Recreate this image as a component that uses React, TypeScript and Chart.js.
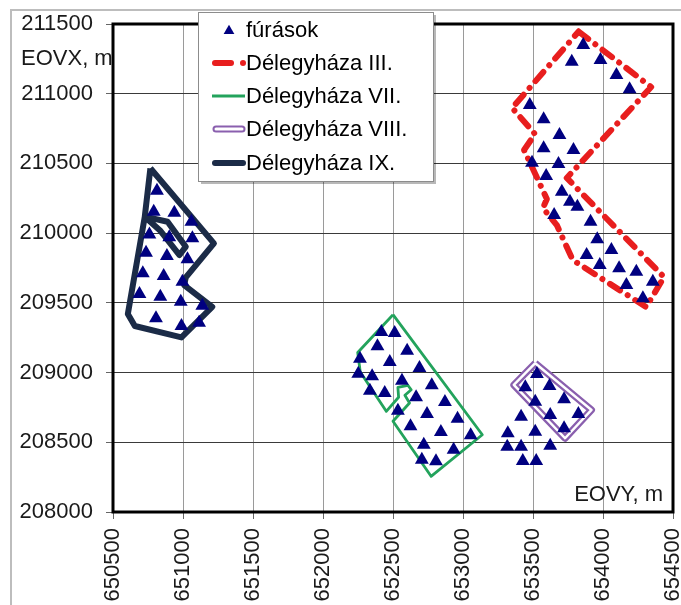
import React, { useEffect, useRef } from 'react';
import { Chart, registerables } from 'chart.js';

Chart.register(...registerables);

const FONT = '"Liberation Sans", Arial, Helvetica, sans-serif';

// Axis ticks, EOV coordinates in metres
const eovyTicks = [650500, 651000, 651500, 652000, 652500, 653000, 653500, 654000, 654500];
const eovxTicks = [208000, 208500, 209000, 209500, 210000, 210500, 211000, 211500];

// Series labels
const seriesNames = ['fúrások', 'Délegyháza III.', 'Délegyháza VII.', 'Délegyháza VIII.', 'Délegyháza IX.'];

// Boreholes, Délegyháza III. area (EOVY, EOVX)
const boreIII_eovy = [653859, 653777, 653982, 654096, 654190, 653477, 653576, 653689, 653576, 653789, 653493, 653682, 653594, 653706, 653764, 653817, 653651, 653911, 653959, 654060, 653883, 653977, 654115, 654238, 654167, 654356, 654285];
const boreIII_eovx = [211349, 211230, 211242, 211134, 211032, 210919, 210817, 210704, 210609, 210596, 210505, 210496, 210410, 210297, 210226, 210190, 210130, 210082, 209956, 209879, 209843, 209772, 209748, 209724, 209628, 209652, 209533];

// Boreholes, Délegyháza VII. area
const boreVII_eovy = [652417, 652512, 652389, 652601, 652264, 652477, 652689, 652252, 652351, 652564, 652777, 652335, 652441, 652665, 652871, 652535, 652743, 652961, 652625, 652842, 653055, 652720, 652933, 652706, 652807];
const boreVII_eovx = [209291, 209284, 209188, 209157, 209100, 209076, 209033, 208992, 208973, 208942, 208909, 208870, 208854, 208823, 208789, 208727, 208703, 208669, 208615, 208574, 208550, 208483, 208447, 208375, 208364];

// Boreholes, Délegyháza VIII. area and its surroundings
const boreVIII_eovy = [653528, 653445, 653618, 653516, 653722, 653415, 653623, 653824, 653320, 653516, 653722, 653316, 653415, 653623, 653427, 653523];
const boreVIII_eovx = [208990, 208894, 208904, 208791, 208808, 208684, 208696, 208703, 208564, 208576, 208600, 208468, 208468, 208476, 208366, 208366];

// Boreholes, Délegyháza IX. area
const boreIX_eovy = [650814, 650791, 650938, 651060, 650760, 650902, 651067, 650736, 650885, 651032, 650713, 650862, 650996, 650689, 650838, 650984, 651138, 650807, 650989, 651115];
const boreIX_eovx = [210304, 210154, 210147, 210082, 209990, 209970, 209963, 209860, 209836, 209812, 209712, 209693, 209652, 209564, 209544, 209508, 209480, 209389, 209334, 209358];

// Field boundaries (closed polygons)
const fieldIII_eovy = [653826, 654344, 653741, 654436, 654308, 653784, 653670, 653571, 653599, 653493, 653436, 653514, 653351, 653826];
const fieldIII_eovx = [211446, 211048, 210396, 209685, 209470, 209807, 210058, 210180, 210245, 210474, 210596, 210711, 210898, 211446];

const fieldVII_eovy = [652500, 653138, 652772, 652500, 652618, 652585, 652630, 652606, 652535, 652540, 652452, 652266, 652248, 652500];
const fieldVII_eovx = [209415, 208554, 208256, 208651, 208782, 208837, 208877, 208909, 208894, 208823, 208722, 209004, 209144, 209415];

const fieldVIII_eovy = [653516, 653918, 653729, 653363, 653516];
const fieldVIII_eovx = [209067, 208732, 208529, 208911, 209067];

const fieldIX_eovy = [650767, 651221, 651020, 651008, 651209, 650989, 650656, 650606, 650727, 650890, 651020, 650975, 650840, 650727, 650767];
const fieldIX_eovx = [210465, 209927, 209683, 209628, 209472, 209252, 209334, 209420, 210118, 210082, 209903, 209843, 210015, 210118, 210465];

const COLORS = {
  bore: '#000080',
  III: '#e81e1e',
  VII: '#23a35c',
  VIII: '#8a5fae',
  IX: '#1b2b47',
};

const toPoints = (xs: number[], ys: number[]) => xs.map((x, i) => ({ x, y: ys[i] }));

const TRI_R = 8;

function triangle(ctx: CanvasRenderingContext2D, x: number, y: number, r: number) {
  ctx.beginPath();
  for (let k = 0; k < 3; k++) {
    const a = (k * 2 * Math.PI) / 3;
    const px = x + Math.sin(a) * r;
    const py = y - Math.cos(a) * r;
    if (k === 0) ctx.moveTo(px, py);
    else ctx.lineTo(px, py);
  }
  ctx.closePath();
  ctx.fill();
}

// Frame, axis captions and the floating legend box
const decorations = {
  id: 'decorations',
  beforeDraw(chart: any) {
    const { ctx, width, height } = chart;
    ctx.save();
    ctx.fillStyle = '#ffffff';
    ctx.fillRect(0, 0, width, height);
    ctx.strokeStyle = '#bdbdbd';
    ctx.lineWidth = 2;
    ctx.beginPath();
    ctx.moveTo(11, height + 2);
    ctx.lineTo(11, 10);
    ctx.lineTo(width + 2, 10);
    ctx.stroke();
    ctx.restore();
  },
  afterDatasetsDraw(chart: any) {
    const { ctx, chartArea: a } = chart;
    ctx.save();
    ctx.strokeStyle = '#000000';
    ctx.lineWidth = 3;
    ctx.strokeRect(a.left, a.top, a.right - a.left, a.bottom - a.top);
    ctx.restore();
  },
  afterDraw(chart: any) {
    const { ctx, chartArea: a } = chart;
    ctx.save();
    ctx.font = `22px ${FONT}`;
    ctx.fillStyle = '#1a1a1a';
    ctx.textBaseline = 'middle';
    ctx.textAlign = 'left';
    ctx.fillText('EOVX, m', 21, 59);
    ctx.textAlign = 'right';
    ctx.fillText('EOVY, m', a.right - 10, a.bottom - 17);

    // legend box
    const lx = 198, ly = 12, lw = 235, lh = 169;
    ctx.fillStyle = 'rgba(0,0,0,0.28)';
    ctx.fillRect(lx + 3, ly + 3, lw, lh);
    ctx.fillStyle = '#ffffff';
    ctx.fillRect(lx, ly, lw, lh);
    ctx.strokeStyle = '#8c8c8c';
    ctx.lineWidth = 1;
    ctx.strokeRect(lx + 0.5, ly + 0.5, lw, lh);

    const rows = [30, 63, 96, 129, 163];
    const s0 = 213, s1 = 244;
    ctx.lineCap = 'round';

    // boreholes marker
    ctx.fillStyle = COLORS.bore;
    triangle(ctx, 229, rows[0] + 1, 6.2);

    // III: dash and dot
    ctx.strokeStyle = COLORS.III;
    ctx.lineWidth = 6;
    ctx.beginPath();
    ctx.moveTo(215, rows[1]);
    ctx.lineTo(231, rows[1]);
    ctx.stroke();
    ctx.beginPath();
    ctx.moveTo(243, rows[1]);
    ctx.lineTo(243.01, rows[1]);
    ctx.stroke();

    // VII
    ctx.lineCap = 'butt';
    ctx.strokeStyle = COLORS.VII;
    ctx.lineWidth = 3;
    ctx.beginPath();
    ctx.moveTo(s0 - 1, rows[2]);
    ctx.lineTo(s1 + 1, rows[2]);
    ctx.stroke();

    // VIII: double line
    ctx.lineCap = 'round';
    ctx.strokeStyle = COLORS.VIII;
    ctx.lineWidth = 7;
    ctx.beginPath();
    ctx.moveTo(s0 + 3, rows[3]);
    ctx.lineTo(s1 - 2, rows[3]);
    ctx.stroke();
    ctx.strokeStyle = '#ffffff';
    ctx.lineWidth = 3;
    ctx.beginPath();
    ctx.moveTo(s0 + 3, rows[3]);
    ctx.lineTo(s1 - 2, rows[3]);
    ctx.stroke();

    // IX
    ctx.strokeStyle = COLORS.IX;
    ctx.lineWidth = 6;
    ctx.beginPath();
    ctx.moveTo(s0 + 2, rows[4]);
    ctx.lineTo(s1 - 1, rows[4]);
    ctx.stroke();

    ctx.font = `22px ${FONT}`;
    ctx.fillStyle = '#000000';
    ctx.textAlign = 'left';
    ctx.textBaseline = 'middle';
    seriesNames.forEach((name, i) => {
      ctx.fillText(name, 246, rows[i] + 1);
    });
    ctx.restore();
  },
};

export default function App() {
  const canvasRef = useRef<HTMLCanvasElement | null>(null);

  useEffect(() => {
    const canvas = canvasRef.current;
    if (!canvas) return;

    const boreholes = [
      ...toPoints(boreIII_eovy, boreIII_eovx),
      ...toPoints(boreVII_eovy, boreVII_eovx),
      ...toPoints(boreVIII_eovy, boreVIII_eovx),
      ...toPoints(boreIX_eovy, boreIX_eovx),
    ];

    const lineDs = (label: string, xs: number[], ys: number[], extra: any) => ({
      label,
      data: toPoints(xs, ys),
      showLine: true,
      pointRadius: 0,
      fill: false,
      tension: 0,
      borderJoinStyle: 'round',
      ...extra,
    });

    const chart = new Chart(canvas, {
      type: 'scatter',
      data: {
        datasets: [
          {
            label: seriesNames[0],
            data: boreholes,
            pointStyle: 'triangle',
            pointRadius: TRI_R,
            pointBackgroundColor: COLORS.bore,
            pointBorderColor: COLORS.bore,
            pointBorderWidth: 0,
            showLine: false,
          },
          lineDs('', fieldVIII_eovy, fieldVIII_eovx, { borderColor: '#ffffff', borderWidth: 2.5 }),
          lineDs(seriesNames[3], fieldVIII_eovy, fieldVIII_eovx, { borderColor: COLORS.VIII, borderWidth: 7 }),
          lineDs(seriesNames[2], fieldVII_eovy, fieldVII_eovx, { borderColor: COLORS.VII, borderWidth: 2.8 }),
          lineDs(seriesNames[1], fieldIII_eovy, fieldIII_eovx, {
            borderColor: COLORS.III,
            borderWidth: 6,
            borderDash: [12, 9, 0.01, 9],
            borderCapStyle: 'round',
          }),
          lineDs(seriesNames[4], fieldIX_eovy, fieldIX_eovx, { borderColor: COLORS.IX, borderWidth: 6 }),
        ],
      } as any,
      options: {
        responsive: false,
        animation: false,
        events: [],
        layout: { padding: { top: 24, right: 4, left: 0, bottom: 0 } },
        plugins: {
          legend: { display: false },
          tooltip: { enabled: false },
          title: { display: false },
        },
        scales: {
          x: {
            type: 'linear',
            position: 'bottom',
            min: eovyTicks[0],
            max: eovyTicks[eovyTicks.length - 1],
            afterBuildTicks: (s: any) => {
              s.ticks = eovyTicks.map((v) => ({ value: v }));
            },
            afterFit: (s: any) => {
              s.height = 93;
              s.paddingLeft = 0;
              s.paddingRight = 0;
            },
            ticks: {
              autoSkip: false,
              minRotation: 90,
              maxRotation: 90,
              padding: 9,
              color: '#1a1a1a',
              font: { family: FONT, size: 22 },
              callback: (v: any) => String(v),
            },
            grid: { color: '#9a9a9a', lineWidth: 1, tickLength: 7, tickColor: '#666666' },
            border: { display: false },
          },
          y: {
            type: 'linear',
            position: 'left',
            min: eovxTicks[0],
            max: eovxTicks[eovxTicks.length - 1],
            afterBuildTicks: (s: any) => {
              s.ticks = eovxTicks.map((v) => ({ value: v }));
            },
            afterFit: (s: any) => {
              s.width = 113;
              s.paddingTop = 0;
              s.paddingBottom = 0;
            },
            ticks: {
              padding: 13,
              color: '#1a1a1a',
              font: { family: FONT, size: 22 },
              callback: (v: any) => String(v),
            },
            grid: { color: '#3a3a3a', lineWidth: 1, tickLength: 7, tickColor: '#666666' },
            border: { display: false },
          },
        },
      } as any,
      plugins: [decorations],
    });

    return () => chart.destroy();
  }, []);

  return (
    <div style={{ position: 'absolute', left: 0, top: 0, width: 681, height: 605, background: '#fff' }}>
      <canvas ref={canvasRef} width={681} height={605} style={{ display: 'block' }} />
    </div>
  );
}
